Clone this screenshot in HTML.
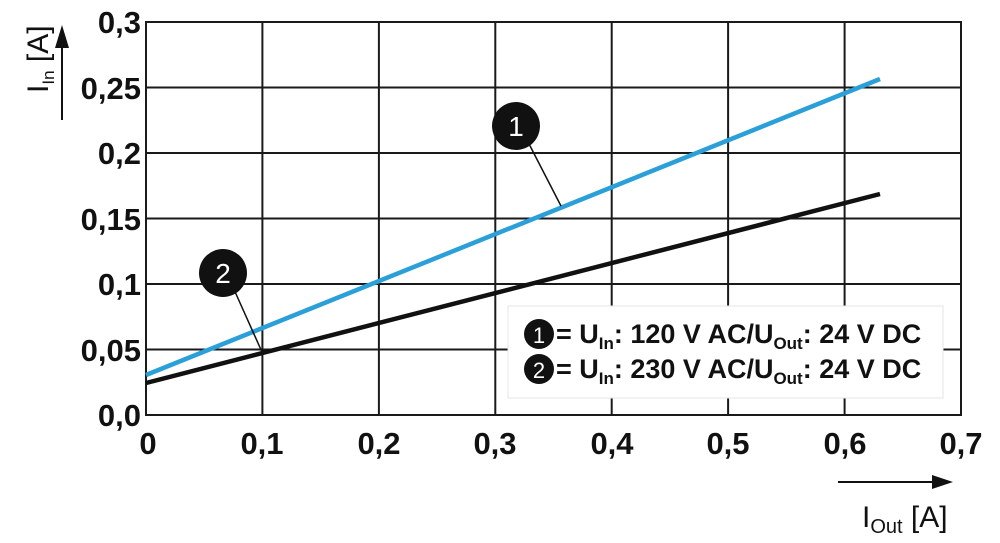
<!DOCTYPE html>
<html><head><meta charset="utf-8"><style>body{margin:0;background:#fff}svg{display:block}</style></head><body>
<svg width="1000" height="543" viewBox="0 0 1000 543" font-family="Liberation Sans, sans-serif">
<g stroke="#1a1a1a" stroke-width="2" fill="none">
<rect x="146" y="22" width="815" height="393"/>
<line x1="262.4" y1="22" x2="262.4" y2="415"/><line x1="378.9" y1="22" x2="378.9" y2="415"/><line x1="495.3" y1="22" x2="495.3" y2="415"/><line x1="611.7" y1="22" x2="611.7" y2="415"/><line x1="728.1" y1="22" x2="728.1" y2="415"/><line x1="844.6" y1="22" x2="844.6" y2="415"/>
<line x1="146" y1="87.5" x2="961" y2="87.5"/><line x1="146" y1="153" x2="961" y2="153"/><line x1="146" y1="218.5" x2="961" y2="218.5"/><line x1="146" y1="284" x2="961" y2="284"/><line x1="146" y1="349.5" x2="961" y2="349.5"/>
</g>
<rect x="508" y="306" width="435" height="92" fill="#fff" stroke="#e6e6e6" stroke-width="1"/>
<line x1="146" y1="375" x2="880" y2="79" stroke="#2a9fd8" stroke-width="4.5"/>
<line x1="146" y1="383" x2="880" y2="194" stroke="#111" stroke-width="4.5"/>
<line x1="527" y1="140" x2="561" y2="206" stroke="#111" stroke-width="1.5"/>
<line x1="232" y1="285" x2="262" y2="352" stroke="#111" stroke-width="1.5"/>
<circle cx="516" cy="126" r="24" fill="#111"/><text x="516" y="136" font-size="28" fill="#fff" text-anchor="middle">1</text>
<circle cx="223" cy="273" r="24" fill="#111"/><text x="223" y="283" font-size="28" fill="#fff" text-anchor="middle">2</text>
<g font-size="31" font-weight="bold" fill="#111" text-anchor="end">
<text x="141" y="33">0,3</text><text x="141" y="99">0,25</text><text x="141" y="164">0,2</text><text x="141" y="230">0,15</text><text x="141" y="295">0,1</text><text x="141" y="361">0,05</text><text x="141" y="426">0,0</text>
</g>
<g font-size="31" font-weight="bold" fill="#111" text-anchor="middle">
<text x="148" y="454">0</text><text x="262" y="454">0,1</text><text x="379" y="454">0,2</text><text x="495" y="454">0,3</text><text x="612" y="454">0,4</text><text x="728" y="454">0,5</text><text x="845" y="454">0,6</text><text x="961" y="454">0,7</text>
</g>
<g fill="#111" font-weight="bold" font-size="27">
<circle cx="539" cy="334" r="15"/><text x="539" y="343" fill="#fff" font-weight="normal" font-size="22" text-anchor="middle">1</text>
<circle cx="539" cy="369" r="15"/><text x="539" y="378" fill="#fff" font-weight="normal" font-size="22" text-anchor="middle">2</text>
<text x="556" y="343">= U<tspan font-size="17" dy="6">In</tspan><tspan dy="-6">: 120 V AC/U</tspan><tspan font-size="17" dy="6">Out</tspan><tspan dy="-6">: 24 V DC</tspan></text>
<text x="556" y="378">= U<tspan font-size="17" dy="6">In</tspan><tspan dy="-6">: 230 V AC/U</tspan><tspan font-size="17" dy="6">Out</tspan><tspan dy="-6">: 24 V DC</tspan></text>
</g>
<line x1="62" y1="120" x2="62" y2="45" stroke="#111" stroke-width="2"/>
<polygon points="55,48 69,48 62,25" fill="#111"/>
<text transform="translate(48,93) rotate(-90)" font-size="30" fill="#111">I<tspan font-size="17" dy="6">In</tspan><tspan dy="-6"> [A]</tspan></text>
<line x1="838" y1="482" x2="935" y2="482" stroke="#111" stroke-width="2"/>
<polygon points="932,475 932,489 953,482" fill="#111"/>
<text x="862" y="527" font-size="30" fill="#111">I<tspan font-size="20" dy="6">Out</tspan><tspan dy="-6"> [A]</tspan></text>
</svg>
</body></html>
